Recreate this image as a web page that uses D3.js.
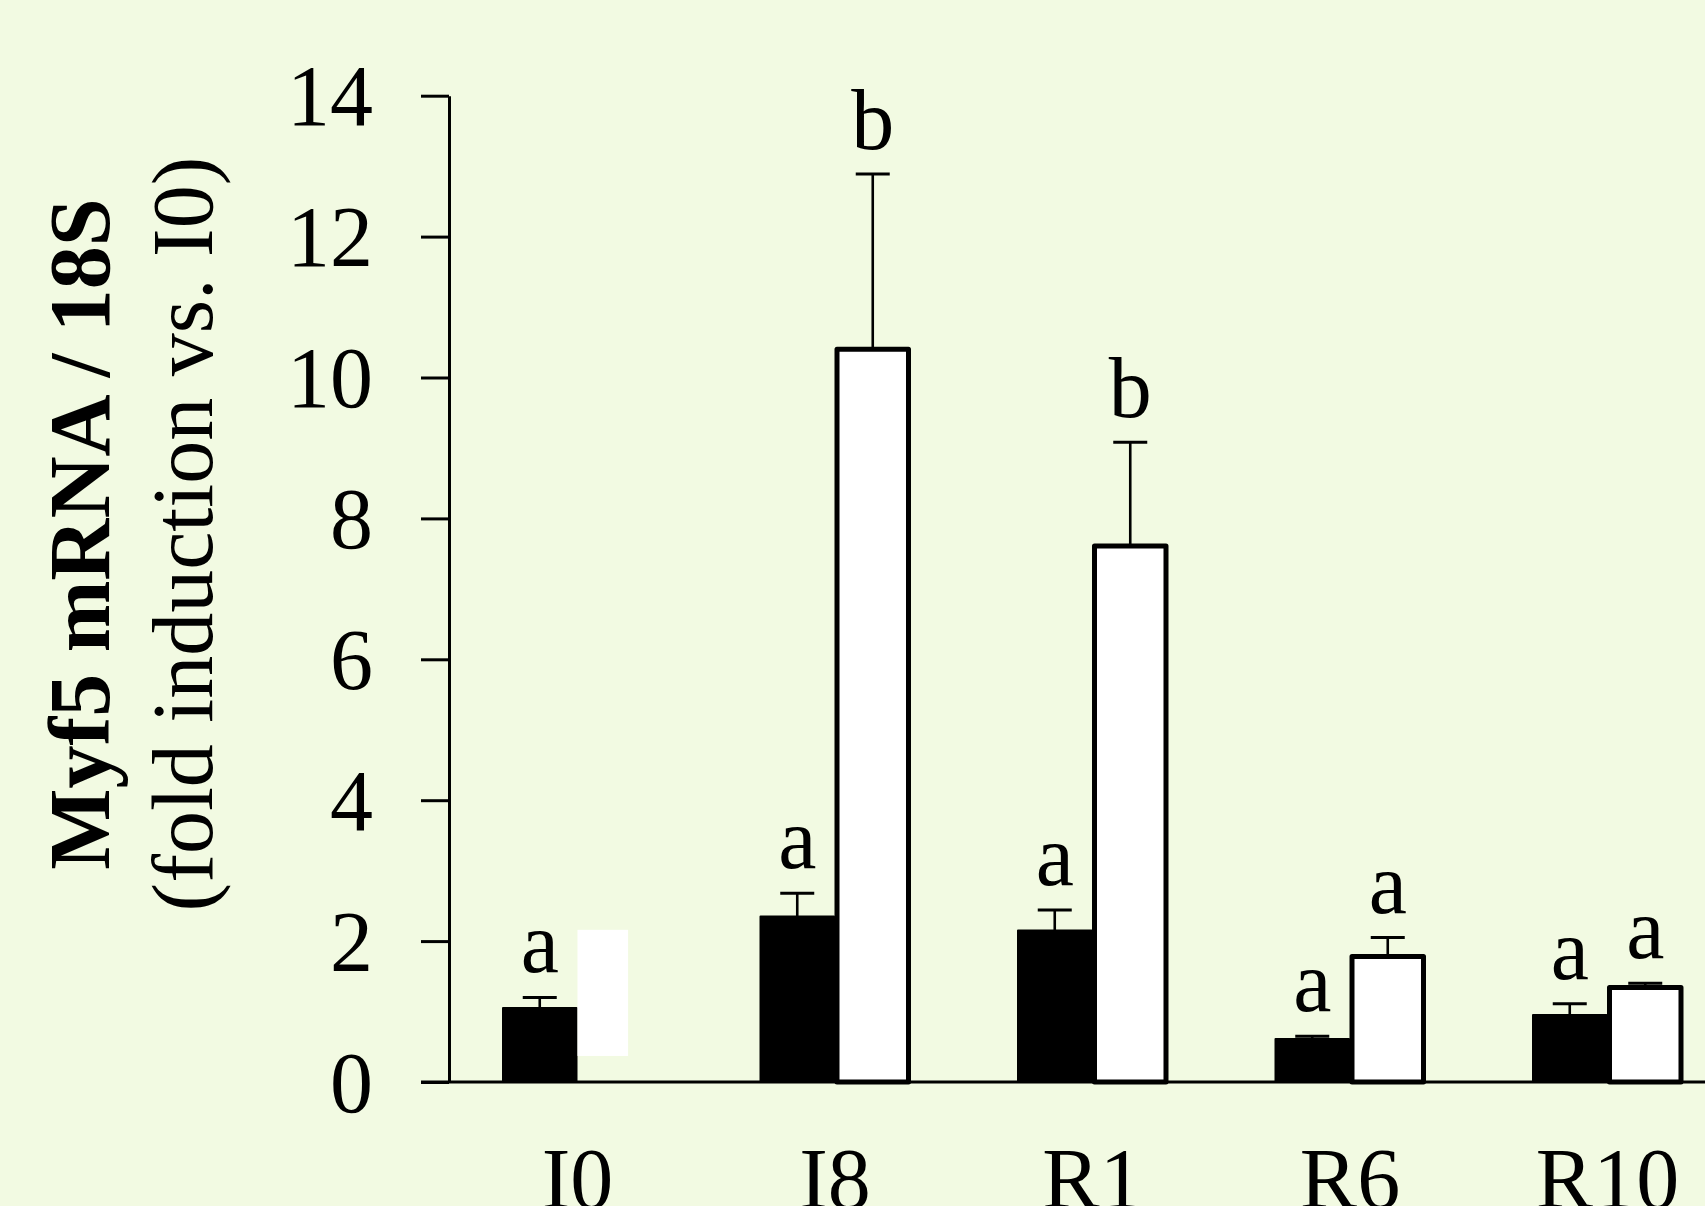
<!DOCTYPE html>
<html>
<head>
<meta charset="utf-8">
<script src="https://cdn.jsdelivr.net/npm/d3@7"></script>
<style>
  html, body { margin: 0; padding: 0; background: #F2FAE2; }
  svg { display: block; }
  text { font-family: "Liberation Serif", "Times New Roman", serif; fill: #000; }
</style>
</head>
<body>
<svg id="chart" width="1705" height="1206"></svg>
<script>
// ---- data ----
const categories = ["I0", "I8", "R1", "R6", "R10"];
const seriesNames = ["black", "white"];
const blackValues = [1.05, 2.35, 2.15, 0.61, 0.95];
const blackErrors = [0.15, 0.33, 0.29, 0.04, 0.16];
const blackLetters = ["a", "a", "a", "a", "a"];
const whiteValues = [null, 10.40, 7.61, 1.78, 1.34];
const whiteErrors = [null, 2.49, 1.47, 0.27, 0.06];
const whiteLetters = [null, "b", "b", "a", "a"];
// white patch covering the I0 white bar in the original (low, high)
const maskCategory = "I0";
const maskRange = [0.37, 2.16];
const yTicks = [0, 2, 4, 6, 8, 10, 12, 14];
const yTitle1 = "Myf5 mRNA / 18S";
const yTitle2 = "(fold induction vs. I0)";

// ---- layout ----
const svg = d3.select("#chart");
const W = 1705, H = 1206;
svg.append("rect").attr("width", W).attr("height", H).attr("fill", "#F2FAE2");

const axisX = 449;
const y = d3.scaleLinear().domain([0, 14]).range([1082, 95.7]);
const x = d3.scaleBand().domain(categories)
  .range([502, 502 + 4 * 257.5 + 151]).paddingInner(0.4136).paddingOuter(0);
const x1 = d3.scaleBand().domain(seriesNames).range([0, x.bandwidth()]);

const fs = 86;

// y axis
const yAxis = d3.axisLeft(y).tickValues(yTicks).tickSize(28).tickSizeOuter(0).tickPadding(48);
const gy = svg.append("g").attr("transform", `translate(${axisX},0)`).call(yAxis);
gy.select(".domain").attr("stroke", "#000").attr("stroke-width", 3);
gy.selectAll(".tick line").attr("stroke", "#000").attr("stroke-width", 3);
gy.selectAll(".tick text").attr("font-size", fs).attr("font-family", "Liberation Serif").attr("fill", "#000").attr("dy", "0.34em");

// x axis line (baseline)
svg.append("line")
  .attr("x1", axisX - 28).attr("x2", W)
  .attr("y1", y(0)).attr("y2", y(0))
  .attr("stroke", "#000").attr("stroke-width", 3);

const rows = categories.map((c, i) => ({
  cat: c,
  bars: [
    { s: "black", v: blackValues[i], e: blackErrors[i], l: blackLetters[i] },
    { s: "white", v: whiteValues[i], e: whiteErrors[i], l: whiteLetters[i] }
  ].filter(b => b.v != null)
}));

const g = svg.append("g");
const groups = g.selectAll("g.grp").data(rows).join("g")
  .attr("class", "grp")
  .attr("transform", d => `translate(${x(d.cat)},0)`);

// error bars (drawn first so bar outline sits over base)
groups.selectAll("g.err").data(d => d.bars).join("g").attr("class", "err")
  .each(function(b) {
    const cx = x1(b.s) + x1.bandwidth() / 2;
    const sel = d3.select(this);
    sel.append("line").attr("x1", cx).attr("x2", cx)
      .attr("y1", y(b.v)).attr("y2", y(b.v + b.e))
      .attr("stroke", "#000").attr("stroke-width", 2.6);
    sel.append("line").attr("x1", cx - 17).attr("x2", cx + 17)
      .attr("y1", y(b.v + b.e)).attr("y2", y(b.v + b.e))
      .attr("stroke", "#000").attr("stroke-width", 3);
  });

// bars
groups.selectAll("rect.bar").data(d => d.bars).join("rect").attr("class", "bar")
  .attr("x", b => x1(b.s) + (b.s === "white" ? 2 : 1))
  .attr("width", b => x1.bandwidth() - (b.s === "white" ? 4 : 2))
  .attr("y", b => y(b.v))
  .attr("height", b => y(0) - y(b.v))
  .attr("fill", b => b.s === "black" ? "#000" : "#fff")
  .attr("stroke", "#000")
  .attr("stroke-width", b => b.s === "black" ? 2 : 5)
  .attr("stroke-linejoin", "round");

// letters
groups.selectAll("text.lab").data(d => d.bars).join("text").attr("class", "lab")
  .attr("x", b => x1(b.s) + x1.bandwidth() / 2)
  .attr("y", b => y(b.v + b.e) - 25)
  .attr("text-anchor", "middle")
  .attr("font-size", fs)
  .text(b => b.l);

// white mask on I0
svg.append("rect")
  .attr("x", x(maskCategory) + x1("white"))
  .attr("width", x1.bandwidth() * 0.67)
  .attr("y", y(maskRange[1]))
  .attr("height", y(maskRange[0]) - y(maskRange[1]))
  .attr("fill", "#fff");

// category labels
svg.append("g").selectAll("text").data(categories).join("text")
  .attr("x", c => x(c) + x.bandwidth() / 2)
  .attr("y", 1208)
  .attr("text-anchor", "middle")
  .attr("font-size", fs)
  .text(c => c);

// y titles
svg.append("text")
  .attr("transform", `translate(109,534) rotate(-90)`)
  .attr("text-anchor", "middle")
  .attr("font-size", fs)
  .attr("font-weight", "bold")
  .text(yTitle1);
svg.append("text")
  .attr("transform", `translate(212,534) rotate(-90)`)
  .attr("text-anchor", "middle")
  .attr("font-size", fs)
  .text(yTitle2);
</script>
</body>
</html>
